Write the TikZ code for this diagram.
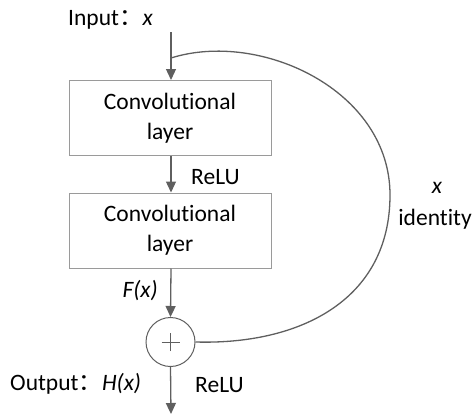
\documentclass[tikz,border=0pt]{standalone}
\usepackage{fontspec}
\setmainfont[Ligatures=NoCommon]{Carlito}
\newfontfamily\cjkf{Noto Sans CJK SC}
\usetikzlibrary{arrows.meta}
\definecolor{linegray}{HTML}{5F5F5F}
\definecolor{boxgray}{HTML}{9A9A9A}
\begin{document}
\begin{tikzpicture}[x=1pt,y=-1pt,
  every node/.style={font=\fontsize{23.5}{30}\selectfont, inner sep=0pt},
  layerbox/.style={draw=boxgray, line width=1pt, minimum width=202pt, minimum height=75pt, align=center},
  flow/.style={draw=linegray, line width=1.3pt, -{Triangle[length=11pt,width=10pt]}},
  skip/.style={draw=linegray, line width=1.3pt},
  sumnode/.style={draw=linegray, line width=1pt, circle, minimum size=49pt},
  lbl/.style={text=black}]
\useasboundingbox (0,0) rectangle (476,415);
\coordinate (in) at (171,32);
\coordinate (j) at (171,58);
\node[layerbox] (b1) at (170,118) {Convolutional\\layer};
\node[layerbox] (b2) at (170,230.5) {Convolutional\\layer};
\node[sumnode] (s) at (170.5,342) {};
\coordinate (out) at (171,414);
\draw[linegray, line width=0.9pt] ([xshift=-9pt]s.center) -- ([xshift=9pt]s.center)
  ([yshift=-9pt]s.center) -- ([yshift=9pt]s.center);
\draw[flow] (in) -- (b1.north -| in);
\draw[flow] (b1.south -| in) -- (b2.north -| in);
\draw[flow] (b2.south -| in) -- (s.north);
\draw[flow] (s.south) -- (out);
\draw[skip] (j) .. controls (260,30) and (390,90) .. (390,195)
  .. controls (390,300) and (300,345) .. (s.east);
\node[lbl, anchor=base west] (tin) at (68,25) {Input{\cjkf ：}\textit{x}};
\node[lbl, anchor=base west] (r1) at (191,184) {ReLU};
\node[lbl, anchor=base east] (fx) at (158,297) {\textit{F(x)}};
\node[lbl, anchor=base west] (tout) at (10,390) {Output{\cjkf ：}\textit{H(x)}};
\node[lbl, anchor=base west] (r2) at (195,392) {ReLU};
\node[lbl] (xi) at (437,188) {\textit{x}};
\node[lbl, anchor=base] (id) at (435,225) {identity};
\end{tikzpicture}
\end{document}
